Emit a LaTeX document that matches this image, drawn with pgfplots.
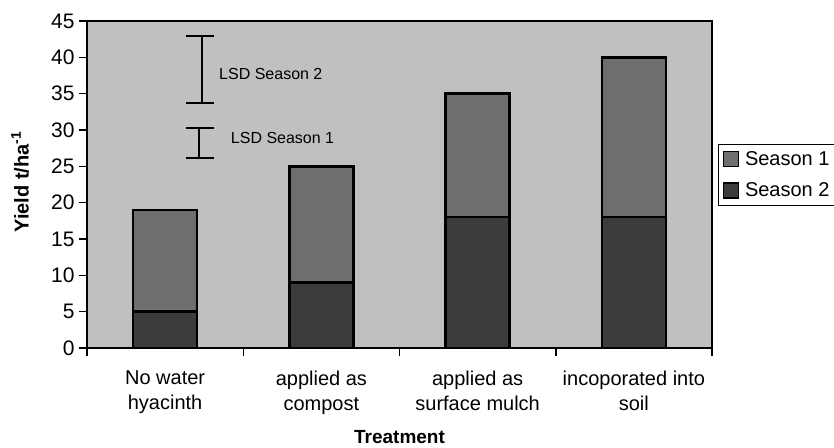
\documentclass[border=0pt]{standalone}
\usepackage{fontspec}
\setmainfont{Liberation Sans}
\usepackage{pgfplots}
\pgfplotsset{compat=1.18}
\definecolor{bg}{RGB}{192,192,192}
\definecolor{sone}{RGB}{110,110,110}
\definecolor{stwo}{RGB}{60,60,60}
\begin{document}
\begin{tikzpicture}[x=1pt,y=1pt]
\useasboundingbox (-87,-99) rectangle (747,348);
\clip (-87,-99) rectangle (747,348);
\begin{axis}[
  scale only axis, width=625pt, height=327pt,
  xmin=-0.5, xmax=3.5, ymin=0, ymax=45,
  axis background/.style={fill=bg},
  ybar stacked, bar width=64pt,
  xtick={0,1,2,3},
  xticklabels={{No water\\hyacinth},{applied as\\compost},{applied as\\surface mulch},{incoporated into\\soil}},
  major x tick style={draw=none},
  minor xtick={-0.5,0.5,1.5,2.5,3.5},
  ytick={0,5,...,45},
  tick align=outside,
  xtick pos=left, ytick pos=left,
  major tick length=8pt, minor tick length=8pt,
  tick style={black, line width=1.5pt},
  axis line style={line width=2.5pt},
  /pgf/number format/assume math mode=true,
  yticklabel style={font=\fontsize{21}{21}\selectfont, xshift=-1pt},
  xticklabel style={font=\fontsize{20}{25}\selectfont, align=center, anchor=north, yshift=-11pt},
  ylabel={\textbf{Yield t/ha\textsuperscript{-1}}},
  ylabel style={font=\fontsize{20}{20}\selectfont, at={(axis description cs:-0.107,0.508)}, anchor=center},
  xlabel={\textbf{Treatment}},
  xlabel style={font=\fontsize{19}{19}\selectfont, at={(axis description cs:0.5,0)}, anchor=base, yshift=-95pt},
  legend style={at={(axis description cs:1.0096,0.624)}, anchor=north west, draw=black, line width=1pt, fill=white,
    font=\fontsize{20}{20}\selectfont, row sep=12pt, inner xsep=4pt, inner ysep=5pt,
    /tikz/every odd column/.append style={column sep=4pt}},
  legend cell align=left,
  reverse legend,
  legend image code/.code={\draw[#1,draw=black,line width=1.5pt] (0pt,-7.5pt) rectangle (15pt,7.5pt);},
]
\addplot[fill=stwo, draw=black, line width=2.5pt] coordinates {(0,5) (1,9) (2,18) (3,18)};
\addplot[fill=sone, draw=black, line width=2.5pt] coordinates {(0,14) (1,16) (2,17) (3,22)};
\legend{Season 2\hspace*{12pt}, Season 1\hspace*{12pt}}
\end{axis}
\begin{axis}[
  scale only axis, width=625pt, height=327pt,
  xmin=-0.5, xmax=3.5, ymin=0, ymax=45,
  hide axis, clip=false,
]
\addplot[black, line width=2pt] coordinates {(0.233,33.67) (0.233,42.98)};
\addplot[black, line width=2pt] coordinates {(0.134,42.98) (0.313,42.98)};
\addplot[black, line width=2pt] coordinates {(0.134,33.67) (0.313,33.67)};
\addplot[black, line width=2pt] coordinates {(0.219,26.2) (0.219,30.3)};
\addplot[black, line width=2pt] coordinates {(0.134,30.3) (0.313,30.3)};
\addplot[black, line width=2pt] coordinates {(0.134,26.2) (0.313,26.2)};
\node[anchor=base west, inner sep=0pt, font=\fontsize{16}{16}\selectfont] at (axis cs:0.345,37.0) {LSD Season 2};
\node[anchor=base west, inner sep=0pt, font=\fontsize{16}{16}\selectfont] at (axis cs:0.42,28.2) {LSD Season 1};
\end{axis}
\end{tikzpicture}
\end{document}
